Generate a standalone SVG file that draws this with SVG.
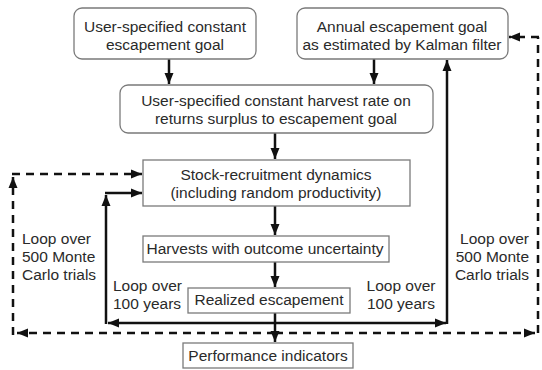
<svg xmlns="http://www.w3.org/2000/svg" width="542" height="370" viewBox="0 0 542 370">
<style>
.box{fill:#fff;stroke:#7a7a7a;stroke-width:1.3}
.t{font-family:"Liberation Sans",Arial,sans-serif;font-size:15.5px;fill:#2a2a2a;text-anchor:middle}
.l{font-family:"Liberation Sans",Arial,sans-serif;font-size:15.5px;fill:#2a2a2a}
.s{fill:none;stroke:#111;stroke-width:2.5}
.d{fill:none;stroke:#111;stroke-width:2.5;stroke-dasharray:8 6}
</style>
<defs>
<marker id="ah" markerUnits="userSpaceOnUse" markerWidth="12" markerHeight="10" refX="11" refY="5" orient="auto">
<path d="M0,0.5 L11,5 L0,9.5 z" fill="#111"/>
</marker>
</defs>
<rect width="542" height="370" fill="#fff"/>
<g id="connectors">
<path class="s" d="M169,59 V84" marker-end="url(#ah)"/>
<path class="s" d="M374,59 V84" marker-end="url(#ah)"/>
<path class="s" d="M275,133 V159" marker-end="url(#ah)"/>
<path class="s" d="M275,206 V235" marker-end="url(#ah)"/>
<path class="s" d="M275,262 V287" marker-end="url(#ah)"/>
<path class="s" d="M275,313 V342" marker-end="url(#ah)"/>
<path class="s" d="M275,323 H108" marker-end="url(#ah)"/>
<path class="s" d="M106,324 V195" marker-end="url(#ah)"/>
<path class="s" d="M105,193 H142" marker-end="url(#ah)"/>
<path class="s" d="M275,323 H446" marker-end="url(#ah)"/>
<path class="s" d="M447,324 V60" marker-end="url(#ah)"/>
<path class="d" d="M275,333 H17" marker-end="url(#ah)"/>
<path class="d" d="M13,335 V177" marker-end="url(#ah)"/>
<path class="d" d="M12,174 H142" marker-end="url(#ah)"/>
<path class="d" d="M275,333 H535" marker-end="url(#ah)"/>
<path class="d" d="M538,333 V37"/>
<path class="d" d="M539,37 H509" marker-end="url(#ah)"/>
</g>
<g id="n1"><rect class="box" x="74" y="8" width="182" height="51" rx="8"/><text class="t" x="165" y="32">User-specified constant</text><text class="t" x="165" y="50">escapement goal</text></g>
<g id="n2"><rect class="box" x="297" y="8" width="211" height="51" rx="8"/><text class="t" x="402" y="32">Annual escapement goal</text><text class="t" x="402" y="50">as estimated by Kalman filter</text></g>
<g id="n3"><rect class="box" x="120" y="85" width="313" height="48" rx="8"/><text class="t" x="276" y="106">User-specified constant harvest rate on</text><text class="t" x="276" y="124">returns surplus to escapement goal</text></g>
<g id="n4"><rect class="box" x="143" y="160" width="267" height="46"/><text class="t" x="276" y="180">Stock-recruitment dynamics</text><text class="t" x="276" y="198">(including random productivity)</text></g>
<g id="n5"><rect class="box" x="143" y="236" width="246" height="26"/><text class="t" x="265" y="254">Harvests with outcome uncertainty</text></g>
<g id="n6"><rect class="box" x="188" y="288" width="162" height="25"/><text class="t" x="269" y="305">Realized escapement</text></g>
<g id="n7"><rect class="box" x="183" y="343" width="170" height="25"/><text class="t" x="268" y="361">Performance indicators</text></g>
<g id="labels">
<text class="l" x="22" y="244">Loop over</text>
<text class="l" x="22" y="262">500 Monte</text>
<text class="l" x="22" y="280">Carlo trials</text>
<text class="l" x="529" y="244" text-anchor="end">Loop over</text>
<text class="l" x="529" y="262" text-anchor="end">500 Monte</text>
<text class="l" x="529" y="280" text-anchor="end">Carlo trials</text>
<text class="l" x="113" y="291">Loop over</text>
<text class="l" x="113" y="309">100 years</text>
<text class="t" x="401" y="291">Loop over</text>
<text class="t" x="401" y="309">100 years</text>
</g>
</svg>
